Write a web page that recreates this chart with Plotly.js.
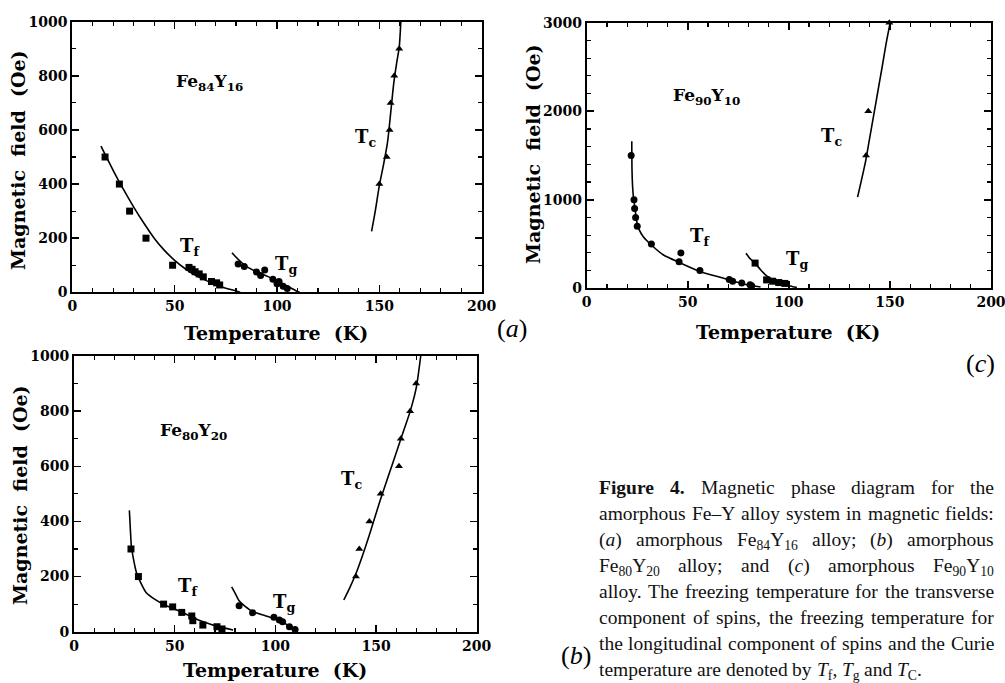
<!DOCTYPE html>
<html><head><meta charset="utf-8">
<script src="https://cdn.plot.ly/plotly-3.0.1.min.js"></script>
<style>html,body{margin:0;padding:0;background:#fff;} #chart{width:1005px;height:683px;}</style>
</head><body><div id="chart"></div>
<script>
// ================= DATA =================
const xTicks = [0, 50, 100, 150, 200];
const yTicksAB = [0, 200, 400, 600, 800, 1000];
const yTicksC = [0, 1000, 2000, 3000];

// panel (a) Fe84Y16
const aTfT = [16, 23, 28, 36, 49, 57, 58.5, 60, 62, 64, 68, 70.5, 72];
const aTfH = [500, 400, 300, 200, 100, 92, 85, 76, 68, 57, 40, 35, 27];
const aTfFitT = [14, 20, 25, 30, 35, 40, 45, 50, 55, 60, 65, 70, 75, 80, 82];
const aTfFitH = [540, 450, 380, 315, 255, 200, 155, 118, 88, 64, 45, 28, 15, 5, 0];
const aTgT = [81, 84, 90, 92, 94, 98, 100, 101, 103, 105];
const aTgH = [105, 95, 75, 62, 82, 48, 32, 40, 22, 14];
const aTgFitT = [78, 81, 85, 90, 95, 100, 104, 107, 109, 111];
const aTgFitH = [146, 122, 96, 76, 60, 43, 26, 15, 7, 0];
const aTcT = [150, 153.6, 155, 155.5, 157.3, 159.7];
const aTcH = [400, 500, 600, 700, 800, 900];
const aTcFitT = [146.2, 148, 150, 152, 154, 155.5, 157, 158.5, 159.7, 160.5];
const aTcFitH = [225, 300, 395, 470, 555, 660, 770, 850, 905, 1000];

// panel (c) Fe90Y10
const cTfT = [22, 23.4, 23.7, 24.2, 25, 32, 45.7, 46.6, 56, 70.5, 72.2, 76.7, 80.8, 81.6];
const cTfH = [1500, 1000, 900, 800, 700, 500, 300, 400, 200, 100, 80, 60, 40, 30];
const cTfFitT = [22.3, 22.4, 22.7, 23.1, 24, 24.7, 26, 28, 32, 38, 46, 56, 66, 77.5, 86];
const cTfFitH = [1660, 1350, 1150, 1035, 880, 760, 660, 583, 489, 376, 290, 190, 124, 49, 15];
const cTgT = [83.3, 89, 92, 95, 98];
const cTgH = [285, 95, 80, 65, 55];
const cTgFitT = [78.8, 81, 83.3, 86, 89, 92, 95, 98, 102, 104];
const cTgFitH = [395, 330, 282, 210, 140, 100, 70, 45, 18, 8];
const cTcT = [138.2, 139.3, 149.7];
const cTcH = [1500, 2000, 3000];
const cTcFitT = [134, 136, 138, 140, 142, 144, 146, 148, 150.2];
const cTcFitH = [1030, 1230, 1440, 1700, 1960, 2220, 2480, 2750, 3010];

// panel (b) Fe80Y20
const bTfT = [28.3, 32, 44.5, 49, 53.5, 58.5, 59, 64, 71, 73.5];
const bTfH = [300, 200, 100, 90, 70, 57, 40, 24, 18, 10];
const bTfFitT = [27.5, 28, 28.5, 29.5, 31, 33, 36, 40, 45, 50, 55, 60, 65, 70, 75, 79];
const bTfFitH = [440, 370, 310, 265, 215, 180, 140, 118, 97, 82, 66, 48, 34, 22, 13, 6];
const bTgT = [82, 88.7, 99.3, 102, 103.6, 107, 109.8];
const bTgH = [94, 69, 52, 42, 36, 18, 8];
const bTgFitT = [78.3, 80, 82, 85, 89, 95, 100, 104, 108, 111];
const bTgFitH = [163, 140, 112, 92, 72, 58, 46, 33, 15, 0];
const bTcT = [140, 141.7, 146.7, 152.3, 161.4, 162.3, 166.9, 169.9];
const bTcH = [200, 300, 400, 500, 600, 700, 800, 900];
const bTcFitT = [134, 137, 140, 143, 146, 149, 152, 155, 158, 161, 164, 167, 170, 172.2];
const bTcFitH = [115, 160, 210, 270, 335, 405, 475, 540, 605, 670, 735, 800, 885, 1000];

// ================= LAYOUT HELPERS =================
const W = 1005, H = 683;
const fx = px => px / W;
const fy = py => 1 - py / H;

function curve(x, y, xa, ya) {
  return {x, y, xaxis: xa, yaxis: ya, type: 'scatter', mode: 'lines',
    line: {color: 'black', width: 1.6, shape: 'spline', smoothing: 0.6},
    hoverinfo: 'skip', showlegend: false};
}
function pts(x, y, sym, xa, ya) {
  return {x, y, xaxis: xa, yaxis: ya, type: 'scatter', mode: 'markers',
    marker: {symbol: sym, size: 7, color: 'black'}, cliponaxis: false,
    hoverinfo: 'skip', showlegend: false};
}

const traces = [
  curve(aTfFitT, aTfFitH, 'x', 'y'), pts(aTfT, aTfH, 'square', 'x', 'y'),
  curve(aTgFitT, aTgFitH, 'x', 'y'), pts(aTgT, aTgH, 'circle', 'x', 'y'),
  curve(aTcFitT, aTcFitH, 'x', 'y'), pts(aTcT, aTcH, 'triangle-up', 'x', 'y'),
  curve(cTfFitT, cTfFitH, 'x2', 'y2'), pts(cTfT, cTfH, 'circle', 'x2', 'y2'),
  curve(cTgFitT, cTgFitH, 'x2', 'y2'), pts(cTgT, cTgH, 'square', 'x2', 'y2'),
  curve(cTcFitT, cTcFitH, 'x2', 'y2'), pts(cTcT, cTcH, 'triangle-up', 'x2', 'y2'),
  curve(bTfFitT, bTfFitH, 'x3', 'y3'), pts(bTfT, bTfH, 'square', 'x3', 'y3'),
  curve(bTgFitT, bTgFitH, 'x3', 'y3'), pts(bTgT, bTgH, 'circle', 'x3', 'y3'),
  curve(bTcFitT, bTcFitH, 'x3', 'y3'), pts(bTcT, bTcH, 'triangle-up', 'x3', 'y3')
];

const tickFont = {family: 'DejaVu Serif', size: 14, color: 'black', weight: 'bold'};
function axis(domain, range, tickvals, minorDtick, anchor) {
  return {domain, range, anchor, tickvals, ticktext: tickvals.map(String),
    showline: true, linecolor: 'black', linewidth: 2, mirror: 'allticks',
    ticks: 'inside', ticklen: 7, tickwidth: 1.5, tickcolor: 'black',
    ticklabeloverflow: 'allow', automargin: false,
    minor: {ticks: 'inside', ticklen: 4, tickwidth: 1.2, tickcolor: 'black', dtick: minorDtick, showgrid: false},
    showgrid: false, zeroline: false, tickfont: tickFont, fixedrange: true};
}

const layout = {
  width: W, height: H, margin: {l: 0, r: 0, t: 0, b: 0},
  paper_bgcolor: 'white', plot_bgcolor: 'white', showlegend: false,
  xaxis:  axis([fx(72.3), fx(481.7)], [0, 200], xTicks, 10, 'y'),
  yaxis:  axis([fy(292.3), fy(21.7)], [0, 1000], yTicksAB, 100, 'x'),
  xaxis2: axis([fx(586.7), fx(991)], [0, 200], xTicks, 10, 'y2'),
  yaxis2: axis([fy(288.3), fy(22.7)], [0, 3000], yTicksC, 200, 'x2'),
  xaxis3: axis([fx(74), fx(476.7)], [0, 200], xTicks, 10, 'y3'),
  yaxis3: axis([fy(631.7), fy(356)], [0, 1000], yTicksAB, 100, 'x3'),
  annotations: []
};

const ann = layout.annotations;
const boldSerif = (size) => ({family: 'DejaVu Serif', size, color: 'black', weight: 'bold'});
function dataText(text, x, y, xr, yr, size) {
  ann.push({text, x, y, xref: xr, yref: yr, showarrow: false, font: boldSerif(size), xanchor: 'center', yanchor: 'middle'});
}
function paperText(text, px, py, font, angle) {
  ann.push({text, x: fx(px), y: fy(py), xref: 'paper', yref: 'paper', showarrow: false, font,
    textangle: angle || 0, xanchor: 'center', yanchor: 'middle'});
}

// in-plot labels
dataText('Fe<sub>84</sub>Y<sub>16</sub>', 67, 777, 'x', 'y', 17);
dataText('T<sub>f</sub>', 57.5, 168, 'x', 'y', 18);
dataText('T<sub>g</sub>', 104.4, 101, 'x', 'y', 18);
dataText('T<sub>c</sub>', 143, 569, 'x', 'y', 18);
dataText('Fe<sub>90</sub>Y<sub>10</sub>', 59.4, 2164, 'x2', 'y2', 17);
dataText('T<sub>f</sub>', 56, 583, 'x2', 'y2', 18);
dataText('T<sub>g</sub>', 104.2, 320, 'x2', 'y2', 18);
dataText('T<sub>c</sub>', 121.2, 1712, 'x2', 'y2', 18);
dataText('Fe<sub>80</sub>Y<sub>20</sub>', 59.3, 725, 'x3', 'y3', 17);
dataText('T<sub>f</sub>', 56.8, 163, 'x3', 'y3', 18);
dataText('T<sub>g</sub>', 104.3, 103, 'x3', 'y3', 18);
dataText('T<sub>c</sub>', 137.9, 550, 'x3', 'y3', 18);

// axis titles
const titleFont = boldSerif(19);
paperText('Temperature  (K)', 276, 333, titleFont);
paperText('Magnetic  field  (Oe)', 18, 160, titleFont, -90);
paperText('Temperature  (K)', 788, 332, titleFont);
paperText('Magnetic  field  (Oe)', 533, 154, titleFont, -90);
paperText('Temperature  (K)', 275, 670, titleFont);
paperText('Magnetic  field  (Oe)', 20, 495, titleFont, -90);

// panel labels
const panelFont = {family: 'Liberation Serif', size: 26, color: 'black'};
paperText('(<i>a</i>)', 512, 328, panelFont);
paperText('(<i>b</i>)', 576, 655, panelFont);
paperText('(<i>c</i>)', 980, 363, panelFont);

// caption (justified, word by word)
const capLines = [
  '<b>Figure</b> <b>4.</b> Magnetic phase diagram for the',
  'amorphous Fe–Y alloy system in magnetic fields:',
  '(<i>a</i>) amorphous Fe<sub>84</sub>Y<sub>16</sub> alloy; (<i>b</i>) amorphous',
  'Fe<sub>80</sub>Y<sub>20</sub> alloy; and (<i>c</i>) amorphous Fe<sub>90</sub>Y<sub>10</sub>',
  'alloy. The freezing temperature for the transverse',
  'component of spins, the freezing temperature for',
  'the longitudinal component of spins and the Curie',
  'temperature are denoted by <i>T</i><sub>f</sub>, <i>T</i><sub>g</sub> and <i>T</i><sub>C</sub>.'
];
const capSize = 19.5, capLeft = 598, capRight = 993, capTop0 = 476, capStep = 26;
const ctx = document.createElement('canvas').getContext('2d');
function measureWord(w) {
  let b = false, it = false, sub = false, width = 0;
  const re = /<(\/?)(b|i|sub)>|([^<]+)/g; let m;
  while ((m = re.exec(w))) {
    if (m[3] !== undefined) {
      const size = sub ? capSize * 0.7 : capSize;
      ctx.font = (it ? 'italic ' : '') + (b ? 'bold ' : '') + size + 'px "Liberation Serif"';
      width += ctx.measureText(m[3]).width;
    } else {
      const on = m[1] !== '/';
      if (m[2] === 'b') b = on; else if (m[2] === 'i') it = on; else sub = on;
    }
  }
  return width;
}
ctx.font = capSize + 'px "Liberation Serif"';
const spaceW = ctx.measureText(' ').width;
capLines.forEach((line, li) => {
  const words = line.split(' ');
  const widths = words.map(measureWord);
  const total = widths.reduce((a, b) => a + b, 0);
  const last = li === capLines.length - 1;
  const gap = last ? spaceW : (capRight - capLeft - total) / (words.length - 1);
  let x = capLeft;
  const top = capTop0 + li * capStep;
  words.forEach((w, wi) => {
    ann.push({text: w, x: fx(x), y: fy(top), xref: 'paper', yref: 'paper', showarrow: false,
      xanchor: 'left', yanchor: 'top', borderpad: 0,
      font: {family: 'Liberation Serif', size: capSize, color: '#111'}});
    x += widths[wi] + gap;
  });
});

Plotly.newPlot('chart', traces, layout, {staticPlot: true, displayModeBar: false});
</script>
</body></html>
